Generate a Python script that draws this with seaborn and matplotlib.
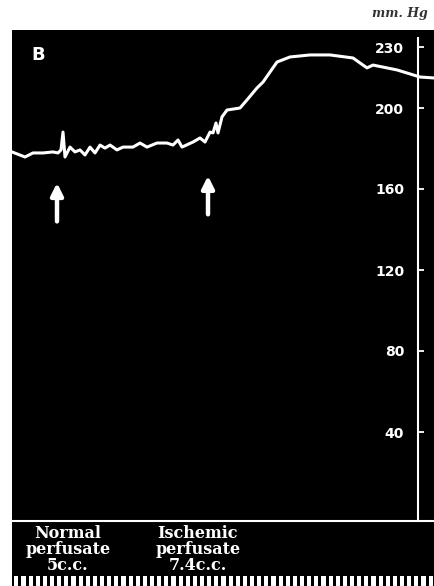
import matplotlib
matplotlib.use("Agg")
import matplotlib.pyplot as plt
import seaborn as sns
import numpy as np
import pandas as pd

# ---- data ----
time_units = [0, 13, 21, 31, 41, 46, 49, 51, 53, 58, 63, 68, 73, 78, 83, 88, 93, 98,
              105, 111, 121, 128, 135, 145, 155, 161, 166, 170, 181, 188, 193, 198,
              201, 204, 206, 210, 215, 228, 235, 245, 251, 265, 278, 298, 318, 341,
              355, 361, 385, 408, 423]
pressure_mmhg = [178.3, 175.8, 177.8, 177.8, 178.3, 177.8, 179.3, 188.1, 175.8, 180.7,
                 178.3, 179.3, 176.8, 180.7, 177.8, 181.7, 180.2, 181.7, 179.3, 180.7,
                 180.7, 182.7, 180.7, 182.7, 182.7, 181.7, 184.2, 180.7, 183.2, 185.2,
                 183.2, 188.1, 187.7, 192.6, 187.7, 195.6, 199.0, 200.0, 204.0, 209.9,
                 212.8, 222.7, 225.2, 226.2, 226.2, 224.7, 219.8, 221.2, 218.8, 215.3,
                 214.8]
y_ticks = [40, 80, 120, 160, 200, 230]
y_tick_labels = ["40", "80", "120", "160", "200", "230"]
injection_times = [45, 196]
injection_labels = ["Normal\nperfusate\n5c.c.", "Ischemic\nperfusate\n7.4c.c."]
n_time_marks = 59

W, H = 435, 586
fig = plt.figure(figsize=(W / 100, H / 100), dpi=100)
fig.patch.set_facecolor("white")

def fx(px):
    return px / W

def fy(py):
    return (H - py) / H

# black panel
bg = fig.add_axes([fx(12), 0, fx(423), fy(30)])
bg.set_facecolor("black")
bg.set_xticks([]); bg.set_yticks([])
for s in bg.spines.values():
    s.set_visible(False)

# main trace axes
ax = fig.add_axes([fx(12), fy(521), fx(423), fy(30) - fy(521)])
ax.patch.set_alpha(0)
df = pd.DataFrame({"t": time_units, "p": pressure_mmhg})
sns.lineplot(data=df, x="t", y="p", ax=ax, color="white", lw=2.2, sort=False)
ax.set_xlim(0, 423)
ax.set_ylim((513 - 521) / 2.025, (513 - 30) / 2.025)
ax.set_xlabel(""); ax.set_ylabel("")
ax.set_xticks([])
ax.spines["left"].set_position(("data", 406))
ax.spines["left"].set_color("white")
ax.spines["left"].set_linewidth(1.5)
ax.spines["left"].set_bounds((513 - 521) / 2.025, (513 - 38) / 2.025)
ax.spines["bottom"].set_color("white")
ax.spines["bottom"].set_linewidth(1.5)
ax.spines["top"].set_visible(False)
ax.spines["right"].set_visible(False)
ax.tick_params(axis="y", direction="in", length=4, width=1.3, color="white",
               labelcolor="white", labelsize=10, pad=10)
ax.set_yticks(y_ticks)
ax.set_yticklabels(y_tick_labels)
for lab in ax.get_yticklabels():
    lab.set_fontweight("bold")
    lab.set_color("white")

# arrows marking injections
arrow_tips = [163.0, 166.5]
arrow_bases = [144.0, 147.5]
for t, tip, base in zip(injection_times, arrow_tips, arrow_bases):
    ax.annotate("", xy=(t, tip), xytext=(t, base),
                arrowprops=dict(arrowstyle="-|>", color="white", lw=3.2,
                                mutation_scale=18, shrinkA=0, shrinkB=0))

ax.text(26, 226, "B", color="white", fontsize=13, fontweight="bold",
        ha="center", va="center")

# injection labels
label_px = [68, 198]
for px, lab in zip(label_px, injection_labels):
    fig.text(fx(px), fy(525), lab, color="white", fontsize=11.5, fontweight="bold",
             family="DejaVu Serif", ha="center", va="top", linespacing=0.92)

# time marks strip
tm = fig.add_axes([fx(12), 0, fx(423), fy(576)])
tm.patch.set_alpha(0)
tm.bar(np.arange(n_time_marks), [1] * n_time_marks, width=0.58, color="white")
tm.set_xlim(-0.6, n_time_marks - 0.4)
tm.set_ylim(0, 1)
tm.axis("off")

fig.text(fx(428), fy(13), "mm. Hg", fontsize=9, fontstyle="italic", fontweight="bold",
         family="DejaVu Serif", color="#333333", ha="right", va="center")

fig.savefig("out.png", dpi=100, facecolor="white")
